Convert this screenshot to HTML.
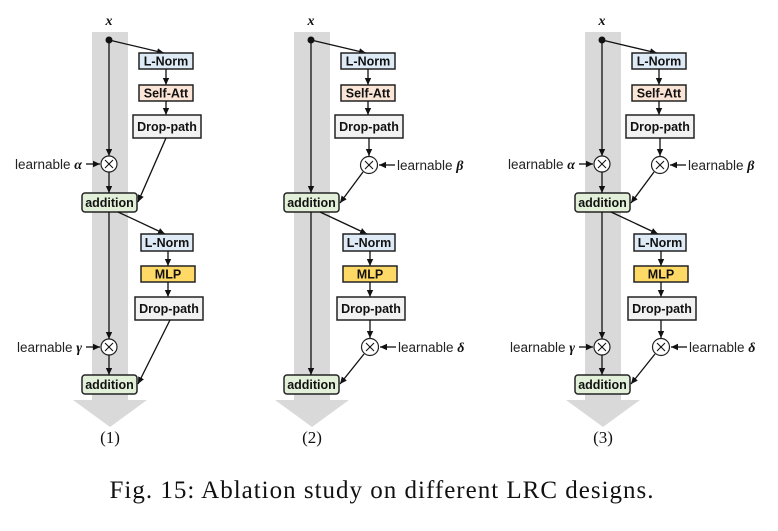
<!DOCTYPE html>
<html><head><meta charset="utf-8"><style>
html,body{margin:0;padding:0;background:#fff}
svg{display:block}
.b{font-family:"Liberation Sans",sans-serif;font-weight:bold;font-size:12.5px;text-anchor:middle;fill:#111}
.l{font-family:"Liberation Sans",sans-serif;font-size:13.5px;fill:#222}
.g{font-family:"Liberation Serif",serif;font-weight:bold;font-style:italic;font-size:14px;fill:#111}
.s{font-family:"Liberation Serif",serif;font-size:17px;text-anchor:middle;fill:#111}
line{stroke:#111;stroke-width:1.3}
rect.n{stroke:#222;stroke-width:1.5}
circle.c{fill:#fff;stroke:#222;stroke-width:1.2}
</style></head><body>
<svg width="778" height="531" viewBox="0 0 778 531" xmlns="http://www.w3.org/2000/svg">
<defs>
<marker id="a" markerWidth="8" markerHeight="8" refX="7" refY="4" orient="auto" markerUnits="userSpaceOnUse"><path d="M0,0.8 L7,4 L0,7.2z" fill="#111"/></marker>
<g id="x"><line x1="-4" y1="-4" x2="4" y2="4" style="stroke-width:1.1"/><line x1="-4" y1="4" x2="4" y2="-4" style="stroke-width:1.1"/></g>
<g id="common">
<rect x="92" y="32" width="36" height="368" fill="#d9d9d9"/>
<polygon points="73,400 147,400 110,427" fill="#d9d9d9"/>
<line x1="109" y1="40" x2="164" y2="53" marker-end="url(#a)"/>
<circle cx="109" cy="40" r="3.5" fill="#111"/>
<rect class="n" x="139" y="53" width="54" height="16" fill="#deebf7"/>
<text class="b" x="166" y="65.5">L-Norm</text>
<line x1="166" y1="69" x2="166" y2="85" marker-end="url(#a)"/>
<rect class="n" x="139" y="85" width="54" height="16" fill="#fbe5d6"/>
<text class="b" x="166" y="97.5">Self-Att</text>
<line x1="166" y1="101" x2="166" y2="115" marker-end="url(#a)"/>
<rect class="n" x="133" y="115" width="68" height="23" fill="#f2f2f2"/>
<text class="b" x="167" y="131">Drop-path</text>
<rect class="n" x="82" y="193" width="55" height="19" rx="3" fill="#e2f0d9"/>
<text class="b" x="109.5" y="207">addition</text>
<line x1="118" y1="212" x2="165" y2="234" marker-end="url(#a)"/>
<rect class="n" x="141" y="234" width="52" height="17" fill="#deebf7"/>
<text class="b" x="167" y="247">L-Norm</text>
<line x1="168" y1="251" x2="168" y2="266" marker-end="url(#a)"/>
<rect class="n" x="141" y="266" width="54" height="16" fill="#ffd966"/>
<text class="b" x="168" y="278.5">MLP</text>
<line x1="168" y1="282" x2="168" y2="297" marker-end="url(#a)"/>
<rect class="n" x="135" y="297" width="68" height="23" fill="#f2f2f2"/>
<text class="b" x="169" y="313">Drop-path</text>
<rect class="n" x="82" y="375" width="55" height="19" rx="3" fill="#e2f0d9"/>
<text class="b" x="109.5" y="389">addition</text>
</g>
<g id="leftmul">
<line x1="109" y1="40" x2="109" y2="156" marker-end="url(#a)"/>
<circle class="c" cx="109" cy="164" r="8"/><use href="#x" x="109" y="164"/>
<line x1="109" y1="172" x2="109" y2="193" marker-end="url(#a)"/>
<line x1="86" y1="164" x2="100" y2="164" marker-end="url(#a)"/>
<line x1="109" y1="212" x2="109" y2="339" marker-end="url(#a)"/>
<circle class="c" cx="109" cy="347" r="8"/><use href="#x" x="109" y="347"/>
<line x1="109" y1="355" x2="109" y2="375" marker-end="url(#a)"/>
<line x1="86" y1="347" x2="100" y2="347" marker-end="url(#a)"/>
</g>
<g id="rightmul">
<line x1="167" y1="138" x2="167" y2="156" marker-end="url(#a)"/>
<circle class="c" cx="167" cy="165" r="8.5"/><use href="#x" x="167" y="165"/>
<line x1="193" y1="165" x2="177" y2="165" marker-end="url(#a)"/>
<line x1="161" y1="172" x2="138" y2="203" marker-end="url(#a)"/>
<line x1="168" y1="320" x2="168" y2="338" marker-end="url(#a)"/>
<circle class="c" cx="168" cy="347" r="8.5"/><use href="#x" x="168" y="347"/>
<line x1="194" y1="347" x2="178" y2="347" marker-end="url(#a)"/>
<line x1="162" y1="354" x2="138" y2="384" marker-end="url(#a)"/>
</g>
</defs>

<!-- Panel 1 -->
<use href="#common"/>
<use href="#leftmul"/>
<line x1="166" y1="138" x2="138" y2="202" marker-end="url(#a)"/>
<line x1="170" y1="320" x2="138" y2="384" marker-end="url(#a)"/>
<text class="g" x="109" y="25" text-anchor="middle">x</text>
<text class="l" x="15" y="169">learnable <tspan class="g">α</tspan></text>
<text class="l" x="17" y="352">learnable <tspan class="g">γ</tspan></text>
<text class="s" x="110" y="443">(1)</text>

<!-- Panel 2 -->
<g transform="translate(202,0)">
<use href="#common"/>
<use href="#rightmul"/>
<line x1="109" y1="40" x2="109" y2="193" marker-end="url(#a)"/>
<line x1="109" y1="212" x2="109" y2="375" marker-end="url(#a)"/>
<text class="g" x="109" y="25" text-anchor="middle">x</text>
<text class="l" x="195" y="170">learnable <tspan class="g">β</tspan></text>
<text class="l" x="196" y="352">learnable <tspan class="g">δ</tspan></text>
<text class="s" x="110" y="443">(2)</text>
</g>

<!-- Panel 3 -->
<g transform="translate(493,0)">
<use href="#common"/>
<use href="#leftmul"/>
<use href="#rightmul"/>
<text class="g" x="109" y="25" text-anchor="middle">x</text>
<text class="l" x="15" y="169">learnable <tspan class="g">α</tspan></text>
<text class="l" x="17" y="352">learnable <tspan class="g">γ</tspan></text>
<text class="l" x="195" y="170">learnable <tspan class="g">β</tspan></text>
<text class="l" x="196" y="352">learnable <tspan class="g">δ</tspan></text>
<text class="s" x="110" y="443">(3)</text>
</g>

<text x="382" y="498" text-anchor="middle" style="font-family:'Liberation Serif',serif;font-size:25px;letter-spacing:1px;fill:#111">Fig. 15: Ablation study on different LRC designs.</text>
</svg>
</body></html>
